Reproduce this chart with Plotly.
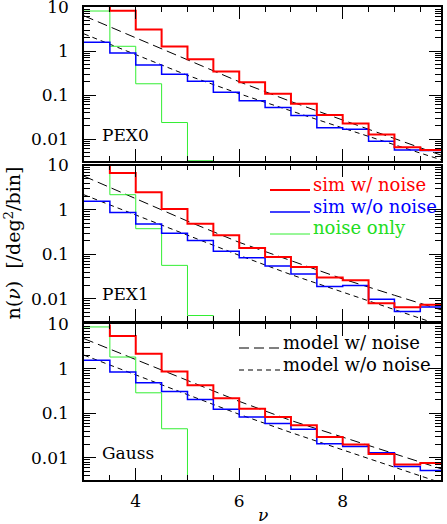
import plotly.graph_objects as go
from plotly.subplots import make_subplots

# bin edges of the peak-height histograms (nu)
BIN_EDGES = [3.0, 3.5, 4.0, 4.5, 5.0, 5.5, 6.0, 6.5, 7.0, 7.5, 8.0, 8.5, 9.0, 9.5, 10.0]
PANELS = ["PEX0", "PEX1", "Gauss"]

# n(nu) per bin [/deg^2/bin]; 0 = empty bin
SIM_NOISE_PEX0 = [20, 8.2, 3.1, 1.26, 0.65, 0.34, 0.195, 0.107, 0.063, 0.035, 0.0224, 0.0126, 0.0065, 0.0056]
SIM_CLEAN_PEX0 = [1.58, 0.9, 0.48, 0.295, 0.206, 0.115, 0.074, 0.052, 0.034, 0.018, 0.0167, 0.0089, 0.0056, 0.0055]
NOISE_ONLY_PEX0 = [8.1, 1.28, 0.18, 0.0237, 0.0032, 0, 0, 0, 0, 0, 0, 0, 0, 0]

SIM_NOISE_PEX1 = [20, 6.8, 2.5, 1.05, 0.49, 0.27, 0.139, 0.087, 0.052, 0.030, 0.026, 0.0079, 0.0064, 0.0073]
SIM_CLEAN_PEX1 = [1.56, 0.88, 0.48, 0.30, 0.206, 0.117, 0.084, 0.055, 0.036, 0.019, 0.020, 0.0098, 0.0052, 0.0065]
NOISE_ONLY_PEX1 = [20, 2.2, 0.378, 0.0565, 0.0042, 0, 0, 0, 0, 0, 0, 0, 0, 0]

SIM_NOISE_GAUSS = [20, 5.5, 2.2, 0.88, 0.43, 0.22, 0.127, 0.083, 0.054, 0.0294, 0.020, 0.0121, 0.0071, 0.0076]
SIM_CLEAN_GAUSS = [1.56, 0.85, 0.49, 0.31, 0.206, 0.123, 0.083, 0.059, 0.044, 0.0207, 0.018, 0.0129, 0.0064, 0.0052]
NOISE_ONLY_GAUSS = [8.8, 1.85, 0.29, 0.045, 0, 0, 0, 0, 0, 0, 0, 0, 0, 0]

# model curves
MODEL_NU = [3, 4, 5, 6, 7, 8, 9, 10]
MODEL_NOISE_PEX0 = [6.3, 2.0, 0.63, 0.2, 0.071, 0.027, 0.0102, 0.0039]
MODEL_CLEAN_PEX0 = [2.45, 0.83, 0.28, 0.107, 0.043, 0.0178, 0.0074, 0.0031]
MODEL_NOISE_PEX1 = [5.75, 1.82, 0.56, 0.186, 0.071, 0.028, 0.012, 0.0052]
MODEL_CLEAN_PEX1 = [2.19, 0.76, 0.27, 0.095, 0.035, 0.014, 0.0056, 0.0023]
MODEL_NOISE_GAUSS = [4.8, 1.62, 0.55, 0.186, 0.069, 0.029, 0.0123, 0.0052]
MODEL_CLEAN_GAUSS = [2.04, 0.74, 0.27, 0.095, 0.037, 0.015, 0.0062, 0.0025]

Y_TICKS = [0.01, 0.1, 1, 10]
Y_TICK_TEXT = ["0.01", "0.1", "1", "10"]

SIM_LABELS = ["sim w/ noise", "sim w/o noise", "noise only"]
MODEL_LABELS = ["model w/ noise", "model w/o noise"]

FONT = "DejaVu Serif"
FLOOR = 1e-4  # empty bins drop below the axis
RED, BLUE, GREEN = "#ff0000", "#0000ff", "#33ee33"
LONG_DASH, SHORT_DASH = "10px,5px", "5px,4px"

series = [
    (SIM_NOISE_PEX0, SIM_CLEAN_PEX0, NOISE_ONLY_PEX0, MODEL_NOISE_PEX0, MODEL_CLEAN_PEX0),
    (SIM_NOISE_PEX1, SIM_CLEAN_PEX1, NOISE_ONLY_PEX1, MODEL_NOISE_PEX1, MODEL_CLEAN_PEX1),
    (SIM_NOISE_GAUSS, SIM_CLEAN_GAUSS, NOISE_ONLY_GAUSS, MODEL_NOISE_GAUSS, MODEL_CLEAN_GAUSS),
]


def steps(values):
    vals = [v if v > 0 else FLOOR for v in values]
    return vals + [vals[-1]]


def px_x(px):
    # window pixel -> paper fraction (plot area 84..441)
    return (px - 84) / 357


def px_y(py):
    # window pixel -> paper fraction (plot area 7..480)
    return (480 - py) / 473


fig = make_subplots(rows=3, cols=1, shared_xaxes=True, vertical_spacing=0.01)

for i, (noisy, clean, noise, m_noisy, m_clean) in enumerate(series):
    row = i + 1
    fig.add_trace(go.Scatter(x=MODEL_NU, y=m_noisy, mode="lines",
                             line=dict(color="black", width=1, dash=LONG_DASH),
                             name="model w/ noise"), row=row, col=1)
    fig.add_trace(go.Scatter(x=MODEL_NU, y=m_clean, mode="lines",
                             line=dict(color="black", width=1, dash=SHORT_DASH),
                             name="model w/o noise"), row=row, col=1)
    fig.add_trace(go.Scatter(x=BIN_EDGES, y=steps(noise), mode="lines", line_shape="hv",
                             line=dict(color=GREEN, width=1), name="noise only"), row=row, col=1)
    fig.add_trace(go.Scatter(x=BIN_EDGES, y=steps(clean), mode="lines", line_shape="hv",
                             line=dict(color=BLUE, width=1.5), name="sim w/o noise"), row=row, col=1)
    fig.add_trace(go.Scatter(x=BIN_EDGES, y=steps(noisy), mode="lines", line_shape="hv",
                             line=dict(color=RED, width=2), name="sim w/ noise"), row=row, col=1)
    suffix = str(row) if row > 1 else ""
    fig.add_annotation(x=3.3, y=-1.9, xref="x" + suffix, yref="y" + suffix,
                       text=PANELS[i], showarrow=False, xanchor="left",
                       font=dict(family=FONT, size=17, color="black"))

# hand-drawn legends (text rows + key lines), as in the original figure
for label, color, width, row_y in zip(SIM_LABELS, [RED, BLUE, "#22dd22"], [2, 1.5, 1], [184, 206, 228]):
    fig.add_shape(type="line", xref="paper", yref="paper", x0=px_x(270), x1=px_x(310),
                  y0=px_y(row_y + 6), y1=px_y(row_y + 6),
                  line=dict(color=GREEN if color == "#22dd22" else color, width=width))
    fig.add_annotation(text=label, xref="paper", yref="paper", x=px_x(311), y=px_y(row_y),
                       xanchor="left", yanchor="middle", showarrow=False,
                       font=dict(family=FONT, size=18, color=color))
for label, dash, row_y in zip(MODEL_LABELS, [LONG_DASH, SHORT_DASH], [342, 364]):
    fig.add_shape(type="line", xref="paper", yref="paper", x0=px_x(239), x1=px_x(281),
                  y0=px_y(row_y + 6), y1=px_y(row_y + 6),
                  line=dict(color="black", width=1, dash=dash))
    fig.add_annotation(text=label, xref="paper", yref="paper", x=px_x(281), y=px_y(row_y),
                       xanchor="left", yanchor="middle", showarrow=False,
                       font=dict(family=FONT, size=18, color="black"))

minor_y = [m * 10.0 ** k for k in range(-3, 1) for m in range(2, 10)]

fig.update_xaxes(range=[3, 9.9], showline=True, mirror="allticks", linecolor="black", linewidth=1.5,
                 ticks="inside", ticklen=12, tickwidth=1, tickcolor="black", tick0=0, dtick=2,
                 minor=dict(dtick=0.5, tick0=0, ticklen=5, ticks="inside", tickcolor="black"),
                 showgrid=False, zeroline=False, ticklabelstandoff=5, automargin=False,
                 tickfont=dict(family=FONT, size=17, color="black"))
fig.update_yaxes(type="log", range=[-2.5, 1], showline=True, mirror="allticks", linecolor="black",
                 linewidth=1.5, ticks="inside", ticklen=12, tickwidth=1, tickcolor="black",
                 tickvals=Y_TICKS, ticktext=Y_TICK_TEXT, ticklabeloverflow="allow",
                 minor=dict(tickvals=minor_y, ticklen=6, ticks="inside", tickcolor="black"),
                 showgrid=False, zeroline=False, ticklabelstandoff=10, automargin=False,
                 tickfont=dict(family=FONT, size=17, color="black"))

fig.update_layout(
    width=447, height=524,
    margin=dict(l=84, r=6, t=7, b=44, autoexpand=False),
    paper_bgcolor="white", plot_bgcolor="white",
    font=dict(family=FONT, size=17, color="black"),
    showlegend=False,
    yaxis=dict(domain=[0.6744, 1.0]),
    yaxis2=dict(domain=[0.3362, 0.6649]),
    yaxis3=dict(domain=[0.0, 0.3288]),
)
fig.add_annotation(text="n(<i>ν</i>)  [/deg<sup>2</sup>/bin]", xref="paper", yref="paper",
                   x=px_x(12), y=0.5, xanchor="center", yanchor="middle", textangle=-90,
                   showarrow=False, font=dict(family=FONT, size=19, color="black"))
fig.add_annotation(text="<i>ν</i>", xref="paper", yref="paper", x=0.5, y=-0.074,
                   xanchor="center", yanchor="middle",
                   showarrow=False, font=dict(family=FONT, size=17, color="black"))

# page body margin would shift the figure off the window
fig.write_html("out.html", config={"displayModeBar": False},
               post_script="document.body.style.margin='0';")
